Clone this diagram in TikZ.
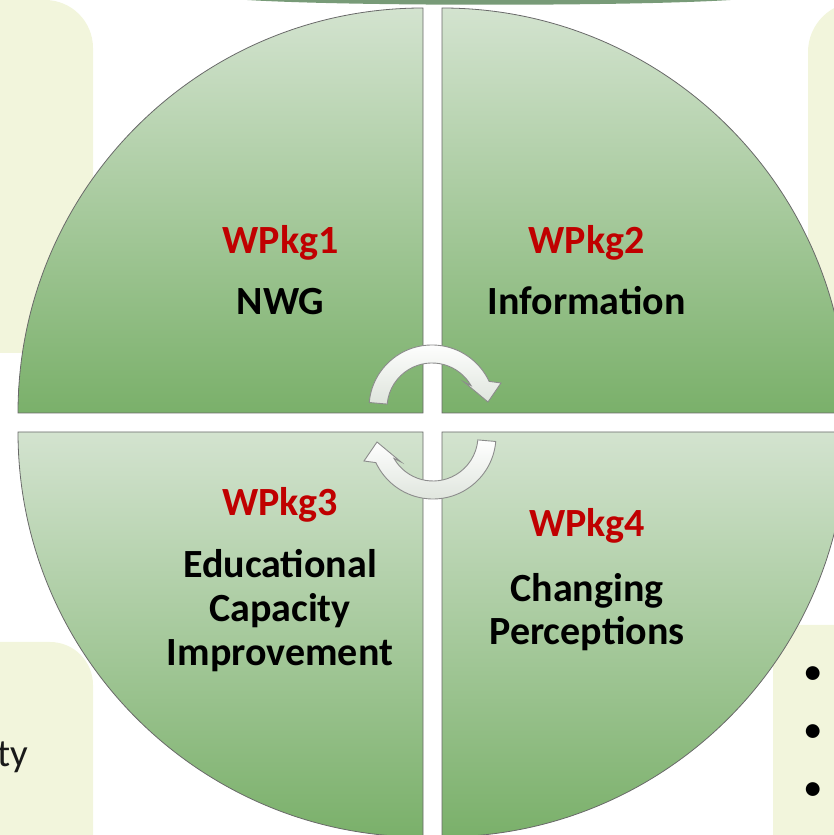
\documentclass[tikz,border=0pt]{standalone}
\usepackage{fontspec}
\setmainfont{Carlito}
\definecolor{qtop}{RGB}{211,227,207}
\definecolor{qbot}{RGB}{122,176,106}
\definecolor{quadline}{RGB}{105,105,105}
\definecolor{boxfill}{RGB}{242,245,220}
\definecolor{wpred}{RGB}{192,0,0}
\definecolor{arrowline}{RGB}{140,140,140}
\definecolor{arrowbot}{RGB}{222,228,220}
\definecolor{bardark}{RGB}{72,112,74}
\definecolor{barlight}{RGB}{120,155,120}
\begin{document}
\begin{tikzpicture}[x=1pt,y=1pt,
  quad/.style={draw=quadline, line width=0.8pt, top color=qtop, bottom color=qbot},
  bgbox/.style={fill=boxfill, draw=none},
  cyclearrow/.style={draw=arrowline, line width=0.9pt, top color=white, bottom color=arrowbot},
  wpkg/.style={font=\fontsize{40}{44}\selectfont\bfseries, text=wpred, anchor=base, inner sep=0pt},
  qtext/.style={font=\fontsize{40}{44}\selectfont\bfseries, text=black, anchor=base, inner sep=0pt},
  sidetext/.style={font=\fontsize{39}{44}\selectfont, text=black!90, inner sep=0pt},
  bullet/.style={font=\fontsize{39}{44}\selectfont, text=black, inner sep=0pt}]
\useasboundingbox (0,0) rectangle (834,835);
% background boxes of the slide
\path[bgbox] (-5,835) -- (45,835) arc[start angle=90,end angle=0,radius=48pt] -- (93,482) -- (-5,482) -- cycle;
\path[bgbox] (-5,193) -- (50,193) arc[start angle=90,end angle=0,radius=43pt] -- (93,-5) -- (-5,-5) -- cycle;
\path[bgbox] (845,833) -- (858,833) arc[start angle=90,end angle=180,radius=50pt] -- (808,482) -- (845,482) -- cycle;
\path[bgbox] (845,210) -- (793,210) arc[start angle=90,end angle=180,radius=20pt] -- (773,-5) -- (845,-5) -- cycle;
% title bar edge
\path[left color=barlight, middle color=bardark, right color=barlight] (223,837) .. controls (300,828) and (680,828) .. (754,837) -- cycle;
% quadrants
\path[quad] (423,422) -- ++(-405pt,0) arc[start angle=180,end angle=90,radius=405pt] -- cycle;
\path[quad] (442,422) -- ++(0,405pt) arc[start angle=90,end angle=0,radius=405pt] -- cycle;
\path[quad] (423,403) -- ++(-405pt,0) arc[start angle=180,end angle=270,radius=405pt] -- cycle;
\path[quad] (442,403) -- ++(405pt,0) arc[start angle=0,end angle=-90,radius=405pt] -- cycle;
% cycle arrows
\begin{scope}[shift={(432,427)}]
\path[cyclearrow] (175:63pt) arc[start angle=175,end angle=25,radius=63pt] -- (69pt,25pt) -- (56pt,6pt) -- (32pt,26pt) -- (30:45pt) arc[start angle=30,end angle=175,radius=45pt] -- cycle;
\end{scope}
\begin{scope}[shift={(433,399)}, rotate=180]
\path[cyclearrow] (175:63pt) arc[start angle=175,end angle=25,radius=63pt] -- (69pt,25pt) -- (56pt,6pt) -- (32pt,26pt) -- (30:45pt) arc[start angle=30,end angle=175,radius=45pt] -- cycle;
\end{scope}
% texts
\node[wpkg] (w1) at (280.5,581) {WPkg1};
\node[qtext] (t1) at (280.5,520) {NWG};
\node[wpkg] (w2) at (586.5,581) {WPkg2};
\node[qtext] (t2) at (586.5,520) {Information};
\node[wpkg] (w3) at (280,319) {WPkg3};
\node[qtext] (t3a) at (280,257) {Educational};
\node[qtext] (t3b) at (280,213) {Capacity};
\node[qtext] (t3c) at (280,169) {Improvement};
\node[wpkg] (w4) at (587,298) {WPkg4};
\node[qtext] (t4a) at (587,233) {Changing};
\node[qtext] (t4b) at (587,190) {Perceptions};
% cut-off side texts
\node[sidetext, anchor=base east] (ty) at (28,68) {ty};
\node[bullet] (b1) at (813,159) {•};
\node[bullet] (b2) at (813,101) {•};
\node[bullet] (b3) at (813,43) {•};
\end{tikzpicture}
\end{document}
